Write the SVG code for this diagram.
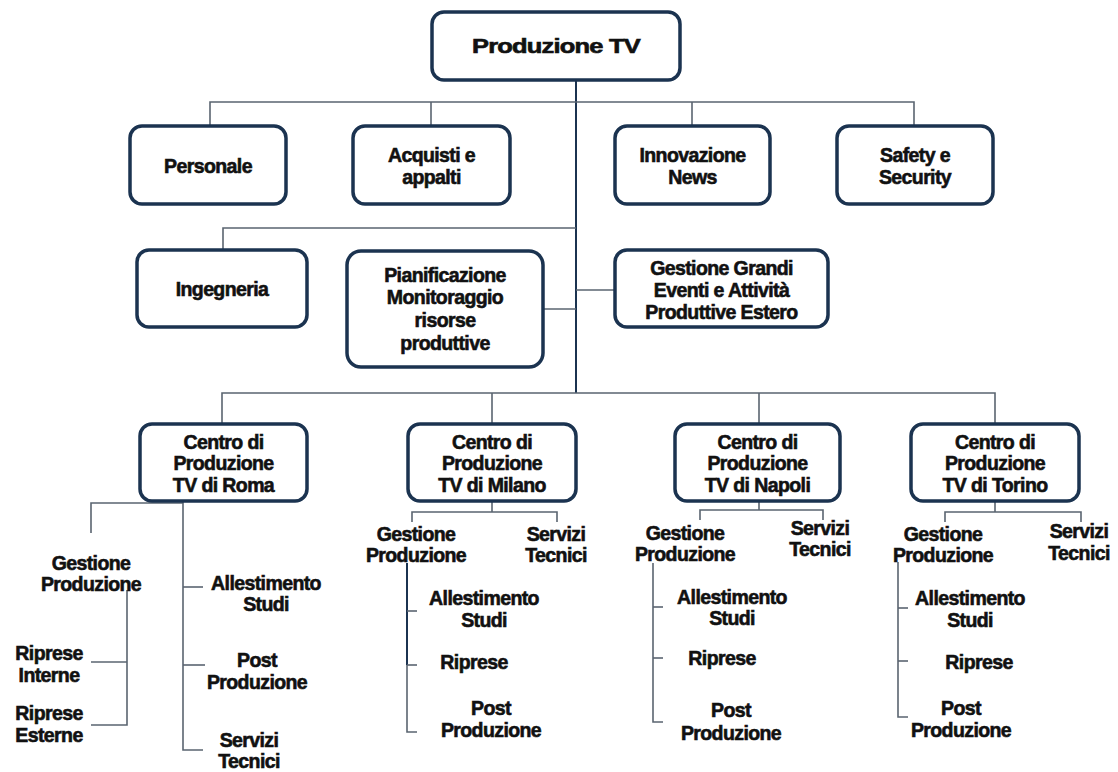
<svg xmlns="http://www.w3.org/2000/svg" width="1118" height="772" viewBox="0 0 1118 772">
<style>
  .box { fill: #ffffff; stroke: #1b3350; stroke-width: 3.5; }
  .ln { fill: none; stroke: #5a6470; stroke-width: 1.6; }
  .trk { fill: none; stroke: #1b3350; stroke-width: 2; }
  text { font-family: "Liberation Sans", Arial, sans-serif; font-weight: bold; font-size: 19.5px; fill: #111111; stroke: #111111; stroke-width: 0.6px; text-anchor: middle; dominant-baseline: central; letter-spacing: -0.6px; }
</style>
<rect width="1118" height="772" fill="#ffffff"/>

<g id="connectors">
  <path class="trk" d="M576 80 V393"/>
  <path class="ln" d="M210 126 V102 H914 V126"/>
  <path class="ln" d="M431 102 V126"/>
  <path class="ln" d="M692 102 V126"/>
  <path class="ln" d="M223 250 V228 H576"/>
  <path class="ln" d="M543 309 H576"/>
  <path class="ln" d="M576 290 H615"/>
  <path class="ln" d="M222 424 V393 H995 V424"/>
  <path class="ln" d="M492 393 V424"/>
  <path class="ln" d="M759 393 V424"/>
  <path class="ln" d="M183 501 V750 H203"/>
  <path class="ln" d="M183 503 H91 V533"/>
  <path class="ln" d="M183 587 H203"/>
  <path class="ln" d="M183 665 H205"/>
  <path class="ln" d="M127 590 V725 H91"/>
  <path class="ln" d="M91 662 H127"/>
  <path class="ln" d="M492 501 V512"/>
  <path class="ln" d="M412 522 V512 H557 V522"/>
  <path class="trk" d="M407 563 V665"/>
  <path class="ln" d="M407 665 V732 H417"/>
  <path class="ln" d="M407 611 H417"/>
  <path class="ln" d="M407 665 H417"/>
  <path class="ln" d="M759 501 V510"/>
  <path class="ln" d="M700 520 V510 H823 V520"/>
  <path class="ln" d="M653 563 V722 H663"/>
  <path class="ln" d="M653 607 H663"/>
  <path class="ln" d="M653 658 H663"/>
  <path class="ln" d="M995 501 V512"/>
  <path class="ln" d="M945 522 V512 H1081 V522"/>
  <path class="ln" d="M898 562 V717 H908"/>
  <path class="ln" d="M898 608 H908"/>
  <path class="ln" d="M898 661 H908"/>
</g>

<g id="produzione-tv">
  <rect class="box" x="432" y="12" width="248" height="68" rx="12"/>
  <text x="556" y="46" textLength="168" lengthAdjust="spacingAndGlyphs">Produzione TV</text>
</g>

<g id="personale">
  <rect class="box" x="130" y="126" width="156" height="78" rx="12"/>
  <text x="208" y="166">Personale</text>
</g>
<g id="acquisti">
  <rect class="box" x="353" y="126" width="157" height="78" rx="12"/>
  <text x="431.5" y="155">Acquisti e</text>
  <text x="431.5" y="177">appalti</text>
</g>
<g id="innovazione">
  <rect class="box" x="615" y="126" width="155" height="78" rx="12"/>
  <text x="692.5" y="155">Innovazione</text>
  <text x="692.5" y="177">News</text>
</g>
<g id="safety">
  <rect class="box" x="837" y="126" width="156" height="78" rx="12"/>
  <text x="915" y="155">Safety e</text>
  <text x="915" y="177">Security</text>
</g>

<g id="ingegneria">
  <rect class="box" x="137" y="250" width="170" height="77" rx="12"/>
  <text x="222" y="289">Ingegneria</text>
</g>
<g id="pianificazione">
  <rect class="box" x="347" y="251" width="196" height="116" rx="14"/>
  <text x="445" y="275">Pianificazione</text>
  <text x="445" y="297">Monitoraggio</text>
  <text x="445" y="320">risorse</text>
  <text x="445" y="343">produttive</text>
</g>
<g id="gestione-grandi-eventi">
  <rect class="box" x="615" y="250" width="213" height="77" rx="12"/>
  <text x="721.5" y="268">Gestione Grandi</text>
  <text x="721.5" y="290">Eventi e Attività</text>
  <text x="721.5" y="312">Produttive Estero</text>
</g>

<g id="cp-roma">
  <rect class="box" x="140" y="424" width="167" height="77" rx="12"/>
  <text x="223.5" y="442">Centro di</text>
  <text x="223.5" y="463">Produzione</text>
  <text x="223.5" y="485">TV di Roma</text>
</g>
<g id="cp-milano">
  <rect class="box" x="408" y="424" width="168" height="77" rx="12"/>
  <text x="492" y="442">Centro di</text>
  <text x="492" y="463">Produzione</text>
  <text x="492" y="485">TV di Milano</text>
</g>
<g id="cp-napoli">
  <rect class="box" x="675" y="424" width="165" height="77" rx="12"/>
  <text x="757.5" y="442">Centro di</text>
  <text x="757.5" y="463">Produzione</text>
  <text x="757.5" y="485">TV di Napoli</text>
</g>
<g id="cp-torino">
  <rect class="box" x="911" y="424" width="168" height="77" rx="12"/>
  <text x="995" y="442">Centro di</text>
  <text x="995" y="463">Produzione</text>
  <text x="995" y="485">TV di Torino</text>
</g>

<g id="roma-gestione-produzione">
  <text x="91" y="563">Gestione</text>
  <text x="91" y="584">Produzione</text>
</g>
<g id="roma-riprese-interne">
  <text x="49" y="653">Riprese</text>
  <text x="49" y="675">Interne</text>
</g>
<g id="roma-riprese-esterne">
  <text x="49" y="713">Riprese</text>
  <text x="49" y="735">Esterne</text>
</g>
<g id="roma-allestimento">
  <text x="266" y="583">Allestimento</text>
  <text x="266" y="604">Studi</text>
</g>
<g id="roma-post">
  <text x="257" y="660">Post</text>
  <text x="257" y="682">Produzione</text>
</g>
<g id="roma-servizi">
  <text x="249" y="740">Servizi</text>
  <text x="249" y="761">Tecnici</text>
</g>

<g id="milano-gestione-produzione">
  <text x="416" y="534">Gestione</text>
  <text x="416" y="555">Produzione</text>
</g>
<g id="milano-servizi">
  <text x="556" y="534">Servizi</text>
  <text x="556" y="555">Tecnici</text>
</g>
<g id="milano-allestimento">
  <text x="484" y="598">Allestimento</text>
  <text x="484" y="620">Studi</text>
</g>
<g id="milano-riprese">
  <text x="474" y="662">Riprese</text>
</g>
<g id="milano-post">
  <text x="491" y="708">Post</text>
  <text x="491" y="730">Produzione</text>
</g>

<g id="napoli-gestione-produzione">
  <text x="685" y="533">Gestione</text>
  <text x="685" y="554">Produzione</text>
</g>
<g id="napoli-servizi">
  <text x="820" y="528">Servizi</text>
  <text x="820" y="549">Tecnici</text>
</g>
<g id="napoli-allestimento">
  <text x="732" y="597">Allestimento</text>
  <text x="732" y="618">Studi</text>
</g>
<g id="napoli-riprese">
  <text x="722" y="658">Riprese</text>
</g>
<g id="napoli-post">
  <text x="731" y="710">Post</text>
  <text x="731" y="733">Produzione</text>
</g>

<g id="torino-gestione-produzione">
  <text x="943" y="534">Gestione</text>
  <text x="943" y="555">Produzione</text>
</g>
<g id="torino-servizi">
  <text x="1079" y="531">Servizi</text>
  <text x="1079" y="553">Tecnici</text>
</g>
<g id="torino-allestimento">
  <text x="970" y="598">Allestimento</text>
  <text x="970" y="620">Studi</text>
</g>
<g id="torino-riprese">
  <text x="979" y="662">Riprese</text>
</g>
<g id="torino-post">
  <text x="961" y="708">Post</text>
  <text x="961" y="730">Produzione</text>
</g>
</svg>
